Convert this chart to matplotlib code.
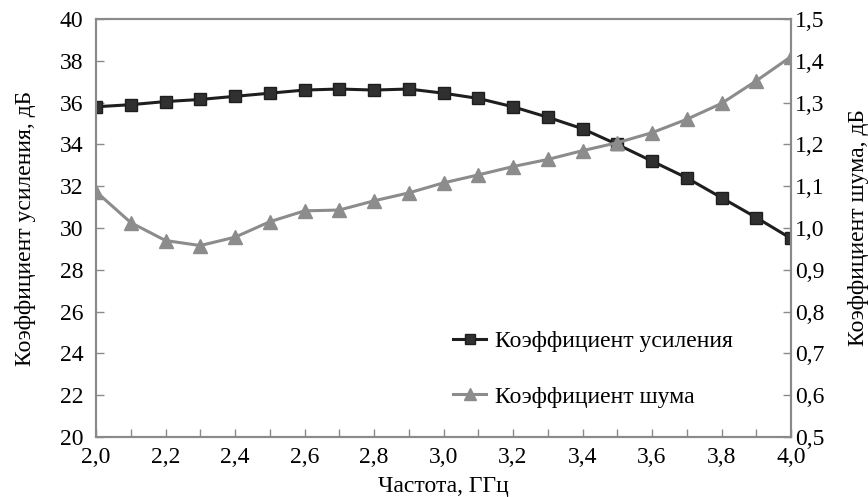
import matplotlib
matplotlib.use("Agg")
import matplotlib.pyplot as plt
import numpy as np
from matplotlib.ticker import MultipleLocator, FuncFormatter

freq = [2.0, 2.1, 2.2, 2.3, 2.4, 2.5, 2.6, 2.7, 2.8, 2.9, 3.0,
        3.1, 3.2, 3.3, 3.4, 3.5, 3.6, 3.7, 3.8, 3.9, 4.0]
gain = [35.8, 35.9, 36.05, 36.15, 36.3, 36.45, 36.6, 36.65, 36.6, 36.65, 36.45,
        36.2, 35.8, 35.3, 34.75, 34.0, 33.2, 32.4, 31.45, 30.5, 29.5]
noise = [1.087, 1.013, 0.970, 0.958, 0.978, 1.015, 1.041, 1.043, 1.065, 1.084, 1.108,
         1.127, 1.147, 1.164, 1.185, 1.204, 1.228, 1.260, 1.298, 1.352, 1.410]

gain_label = "Коэффициент усиления"
noise_label = "Коэффициент шума"
xlabel = "Частота, ГГц"
ylabel_left = "Коэффициент усиления, дБ"
ylabel_right = "Коэффициент шума, дБ"

plt.rcParams['font.family'] = ['Liberation Serif', 'DejaVu Serif']
FS = 17
spine_c = '#8a8a8a'

fig = plt.figure(figsize=(8.68, 4.97), dpi=100)
ax = fig.add_axes([96/868, 1-437/497, 695/868, 418/497])
ax2 = ax.twinx()

l1, = ax.plot(freq, gain, color='#1e1e1e', lw=2.2, marker='s', ms=9,
              mfc='#303030', mec='#1e1e1e', label=gain_label, zorder=3)
l2, = ax2.plot(freq, noise, color='#8c8c8c', lw=2.2, marker='^', ms=10,
               mfc='#8c8c8c', mec='#8c8c8c', label=noise_label, zorder=3)

ax.set_xlim(2.0, 4.0)
ax.set_ylim(20, 40)
ax2.set_ylim(0.5, 1.5)

comma = FuncFormatter(lambda v, p: f"{v:.1f}".replace('.', ','))
comma0 = FuncFormatter(lambda v, p: f"{v:.0f}")
ax.xaxis.set_major_locator(MultipleLocator(0.2))
ax.xaxis.set_minor_locator(MultipleLocator(0.1))
ax.xaxis.set_major_formatter(comma)
ax.yaxis.set_major_locator(MultipleLocator(2))
ax.yaxis.set_major_formatter(comma0)
ax2.yaxis.set_major_locator(MultipleLocator(0.1))
ax2.yaxis.set_major_formatter(comma)

for a in (ax, ax2):
    for s in a.spines.values():
        s.set_color(spine_c)
        s.set_linewidth(1.5)
ax.tick_params(axis='both', which='both', direction='in', length=6, width=1,
               color=spine_c, labelsize=FS)
ax.tick_params(axis='y', pad=9)
ax.tick_params(axis='x', which='both', top=False, pad=7)
ax2.tick_params(axis='y', which='both', direction='in', length=6, width=1,
                color=spine_c, labelsize=FS, pad=3)

ax.set_xlabel(xlabel, fontsize=FS, labelpad=6)
ax.set_ylabel(ylabel_left, fontsize=FS, labelpad=17)
ax2.set_ylabel(ylabel_right, fontsize=FS, rotation=90, labelpad=17)

ax2.legend([l1, l2], [gain_label, noise_label], loc='center left',
           bbox_to_anchor=(432/868, 1-369/497), bbox_transform=fig.transFigure,
           frameon=False, fontsize=FS, markerscale=0.8,
           handlelength=1.4, handletextpad=0.35, labelspacing=1.45)

fig.savefig("out.png", dpi=100)
